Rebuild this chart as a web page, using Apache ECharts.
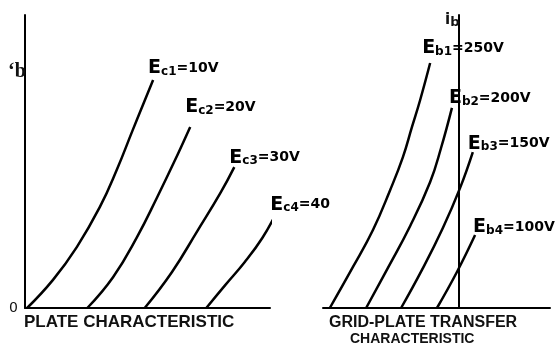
<!DOCTYPE html>
<html><head><meta charset="utf-8">
<script src="https://cdn.jsdelivr.net/npm/echarts@6/dist/echarts.min.js"></script>
<style>html,body{margin:0;padding:0;background:#fff}#c{width:558px;height:350px}</style>
</head><body><div id="c"></div>
<script>
// Plate characteristic: plate voltage (V) vs plate current ib (relative units 0-100)
const ec1 = [[3,0],[40,9.6],[74,20.8],[107,34.5],[131,47.1],[154,60.8],[183,77.8]];
const ec2 = [[89,0],[126,10.6],[160,24.2],[189,37.9],[213,49.8],[236,61.8]];
const ec3 = [[171,0],[210,12.3],[247,26.6],[279,39.2],[299,48.1]];
const ec4 = [[259,0],[286,7.8],[314,15.7],[339,23.9],[359,32.4]];
const plateSubs = ['c1','c2','c3','c4'];
const plateVals = ['10V','20V','30V','40'];

// Grid-plate transfer characteristic: grid voltage (V) vs ib
const eb1 = [[-28.5,0],[-23.4,14.0],[-19.0,26.6],[-15.2,40.3],[-12.4,51.5],[-10.4,61.8],[-8.6,71.0],[-6.4,83.6]];
const eb2 = [[-20.5,0],[-15.7,13.7],[-10.8,28.0],[-6.4,43.0],[-4.0,54.6],[-1.6,68.3]];
const eb3 = [[-12.8,0],[-8.2,13.0],[-3.6,27.3],[0.2,41.0],[3.0,53.2]];
const eb4 = [[-4.9,0],[-0.5,12.3],[3.5,24.9]];
const transSubs = ['b1','b2','b3','b4'];
const transVals = ['250V','200V','150V','100V'];

const plateOffsets = [[-5,-2],[-5,-10],[-5,0],[-6,1]];
const transOffsets = [[-8,-5],[-3,0],[-5,1],[-2,2]];

const FONT = 'DejaVu Sans';
const tb = {textBorderWidth: 0, textBorderColor: 'transparent', textShadowBlur: 0};
const rich = {
  e: Object.assign({fontFamily: FONT, fontWeight: 'bold', fontSize: 19, lineHeight: 19, color: '#000'}, tb),
  s: Object.assign({fontFamily: FONT, fontWeight: 'bold', fontSize: 12, lineHeight: 14, padding: [6,0,0,0], color: '#000'}, tb),
  m: Object.assign({fontFamily: FONT, fontWeight: 'bold', fontSize: 14, lineHeight: 19, color: '#000'}, tb)
};

const series = [];
function addCurve(data, sub, val, off, gi) {
  series.push({
    type: 'line', xAxisIndex: gi, yAxisIndex: gi, data: data,
    smooth: 0.45, symbol: 'none', clip: false, silent: true,
    lineStyle: {color: '#000', width: 2.5}
  });
  series.push({
    type: 'scatter', xAxisIndex: gi, yAxisIndex: gi, clip: false, silent: true,
    data: [data[data.length - 1]], symbolSize: 1,
    itemStyle: {color: 'rgba(0,0,0,0)', opacity: 1},
    label: Object.assign({
      show: true, position: 'inside', align: 'left', verticalAlign: 'bottom', color: '#000',
      offset: off, formatter: '{e|E}{s|' + sub + '}{m|=' + val + '}', rich: rich
    }, tb)
  });
}
[ec1, ec2, ec3, ec4].forEach((d, i) => addCurve(d, plateSubs[i], plateVals[i], plateOffsets[i], 0));
[eb1, eb2, eb3, eb4].forEach((d, i) => addCurve(d, transSubs[i], transVals[i], transOffsets[i], 1));

const axisLine = {show: true, onZero: true, lineStyle: {color: '#000', width: 2}};
const chart = echarts.init(document.getElementById('c'), null, {renderer: 'canvas'});
chart.setOption({
  animation: false,
  backgroundColor: '#fff',
  title: [
    {text: 'PLATE CHARACTERISTIC', left: 24, top: 314, padding: 0,
     textStyle: {fontFamily: 'Liberation Sans', fontWeight: 'bold', fontSize: 17, color: '#111'}},
    {text: 'GRID-PLATE TRANSFER', left: 329, top: 315, padding: 0,
     textStyle: {fontFamily: 'Liberation Sans', fontWeight: 'bold', fontSize: 16, color: '#111'}},
    {text: 'CHARACTERISTIC', left: 350, top: 332, padding: 0,
     textStyle: {fontFamily: 'Liberation Sans', fontWeight: 'bold', fontSize: 14, color: '#111'}},
    {text: '\u2018b', left: 8, top: 62, padding: 0,
     textStyle: {fontFamily: 'Liberation Serif', fontSize: 20, color: '#111'}},
    {text: '{i|i}{b|b}', left: 445, top: 12, padding: 0,
     textStyle: {rich: {
       i: {fontFamily: FONT, fontWeight: 'bold', fontSize: 15, lineHeight: 16, color: '#111'},
       b: {fontFamily: FONT, fontWeight: 'bold', fontSize: 13, lineHeight: 14, padding: [6,0,0,0], color: '#111'}
     }}}
  ],
  grid: [
    {left: 25, top: 15, width: 245, height: 293},
    {left: 323, top: 15, width: 227, height: 293}
  ],
  xAxis: [
    {type: 'value', gridIndex: 0, min: 0, max: 350, axisLine: axisLine,
     axisTick: {show: false}, axisLabel: {show: false}, splitLine: {show: false}},
    {type: 'value', gridIndex: 1, min: -30, max: 20, axisLine: axisLine,
     axisTick: {show: false}, axisLabel: {show: false}, splitLine: {show: false}}
  ],
  yAxis: [
    {type: 'value', gridIndex: 0, min: 0, max: 100, interval: 100, axisLine: axisLine,
     axisTick: {show: false}, splitLine: {show: false},
     axisLabel: {show: true, margin: 7, fontFamily: FONT, fontSize: 14, color: '#111',
       formatter: v => (v === 0 ? '0' : '')}},
    {type: 'value', gridIndex: 1, min: 0, max: 100, axisLine: axisLine,
     axisTick: {show: false}, axisLabel: {show: false}, splitLine: {show: false}}
  ],
  series: series
});
</script></body></html>
